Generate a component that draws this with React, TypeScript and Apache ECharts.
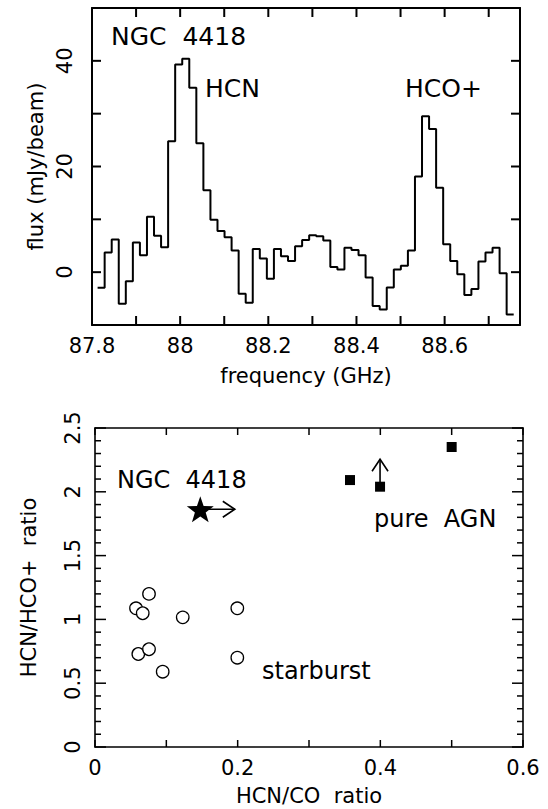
import React, { useEffect, useRef } from "react";
import * as echarts from "echarts";

// ---- Spectrum (top panel) ----
const channelStartGHz = 87.8127;
const channelWidthGHz = 0.016;
const fluxValues = [
  -2.95, 3.7, 6.2, -6.0, -1.7, 5.6, 3.2, 10.5, 6.9, 4.7,
  24.8, 39.3, 40.4, 34.9, 24.4, 15.5, 9.9, 7.8, 6.6, 4.1,
  -4.1, -5.8, 4.4, 2.6, -1.25, 4.4, 3.0, 2.1, 4.9, 6.1,
  7.0, 6.8, 6.0, 1.0, 0.5, 4.6, 4.2, 3.2, -1.0, -6.4,
  -7.05, -2.9, 0.5, 1.2, 4.1, 18.1, 29.5, 27.1, 16.0, 5.3,
  2.1, -0.4, -4.3, -3.2, 2.0, 3.7, 4.6, -0.2, -8.0,
];
const freqTicks = [87.8, 87.9, 88.0, 88.1, 88.2, 88.3, 88.4, 88.5, 88.6, 88.7];
const fluxTicks = [-10, 0, 10, 20, 30, 40, 50];

// ---- Ratio diagram (bottom panel) ----
const starburstHcnCo = [0.0575, 0.0669, 0.0757, 0.123, 0.1995, 0.0607, 0.0757, 0.0949, 0.1995];
const starburstHcnHco = [1.087, 1.048, 1.2, 1.016, 1.087, 0.729, 0.766, 0.59, 0.7];
const agnHcnCo = [0.3575, 0.3996, 0.5];
const agnHcnHco = [2.092, 2.04, 2.351];
const ngc4418HcnCo = [0.1476];
const ngc4418HcnHco = [1.863];
// limits: [x0, y0, x1, y1]
const limitArrows = [
  [0.1476, 1.863, 0.196, 1.863],
  [0.3996, 2.04, 0.3996, 2.255],
];
const ratioXTicks = [0, 0.1, 0.2, 0.3, 0.4, 0.5, 0.6];
const ratioYMajorTicks = [0, 0.5, 1, 1.5, 2, 2.5];
const ratioYMinorTicks = [
  0.1, 0.2, 0.3, 0.4, 0.6, 0.7, 0.8, 0.9, 1.1, 1.2, 1.3, 1.4,
  1.6, 1.7, 1.8, 1.9, 2.1, 2.2, 2.3, 2.4,
];

const FONT = "DejaVu Sans";
const STAR =
  "path://M0,-10 L2.35,-3.24 L9.51,-3.09 L3.8,1.24 L5.88,8.09 L0,4 L-5.88,8.09 L-3.8,1.24 L-9.51,-3.09 L-2.35,-3.24 Z";

// kind: 0 = x tick, 1 = y major tick, 2 = y minor tick
function tickSeries(xi: number, yi: number, items: number[][], xMin: number, yMin: number, lens: number[], width: number) {
  return {
    type: "custom",
    xAxisIndex: xi,
    yAxisIndex: yi,
    silent: true,
    clip: false,
    z: 10,
    data: items,
    renderItem: (params: any, api: any) => {
      const cs = params.coordSys;
      const v = api.value(0);
      const kind = api.value(1);
      const L = lens[kind];
      const style = { stroke: "#000", lineWidth: width, fill: "none" };
      if (kind === 0) {
        const x = api.coord([v, yMin])[0];
        return {
          type: "group",
          children: [
            { type: "line", shape: { x1: x, y1: cs.y + cs.height, x2: x, y2: cs.y + cs.height - L }, style },
            { type: "line", shape: { x1: x, y1: cs.y, x2: x, y2: cs.y + L }, style },
          ],
        };
      }
      const y = api.coord([xMin, v])[1];
      return {
        type: "group",
        children: [
          { type: "line", shape: { x1: cs.x, y1: y, x2: cs.x + L, y2: y }, style },
          { type: "line", shape: { x1: cs.x + cs.width, y1: y, x2: cs.x + cs.width - L, y2: y }, style },
        ],
      };
    },
  };
}

export default function App() {
  const ref = useRef<HTMLDivElement>(null);
  useEffect(() => {
    if (!ref.current) return;
    const chart = echarts.init(ref.current, undefined, { renderer: "svg" });

    const stepData: number[][] = fluxValues.map((v, i) => [channelStartGHz + i * channelWidthGHz, v]);
    stepData.push([channelStartGHz + fluxValues.length * channelWidthGHz, fluxValues[fluxValues.length - 1]]);

    const topLine = { lineStyle: { color: "#000", width: 2 } };
    const botLine = { lineStyle: { color: "#000", width: 1.6 } };
    const noTick = { show: false };

    const fmtTopX = (v: number) => {
      const t = Math.round(v * 10);
      if (Math.abs(v * 10 - t) > 1e-6 || t % 2 !== 0) return "";
      return String(t / 10);
    };
    const fmtTopY = (v: number) => (Math.round(v) % 20 === 0 ? String(Math.round(v)) : "");
    const fmtBotX = (v: number) => {
      const t = Math.round(v * 10);
      if (Math.abs(v * 10 - t) > 1e-6 || t % 2 !== 0) return "";
      return String(t / 10);
    };

    const topTickItems = [
      ...freqTicks.map((v) => [v, 0]),
      ...fluxTicks.map((v) => [v, 1]),
    ];
    const botTickItems = [
      ...ratioXTicks.map((v) => [v, 0]),
      ...ratioYMajorTicks.map((v) => [v, 1]),
      ...ratioYMinorTicks.map((v) => [v, 2]),
    ];

    const option: any = {
      animation: false,
      backgroundColor: "#fff",
      textStyle: { fontFamily: FONT, color: "#000" },
      grid: [
        { left: 92, top: 8, width: 428, height: 317 },
        { left: 95, top: 428, width: 428, height: 319 },
      ],
      xAxis: [
        {
          gridIndex: 0, type: "value", position: "bottom", min: 87.8, max: 88.771, interval: 0.1,
          axisLine: { show: true, onZero: false, ...topLine },
          axisTick: noTick,
          axisLabel: { show: true, formatter: fmtTopX, fontSize: 21, fontFamily: FONT, color: "#000", margin: 10 },
          splitLine: { show: false },
          name: "frequency (GHz)", nameLocation: "middle", nameGap: 40,
          nameTextStyle: { fontSize: 21, fontFamily: FONT, color: "#000" },
        },
        {
          gridIndex: 0, type: "value", position: "top", min: 87.8, max: 88.771, interval: 0.1,
          axisLine: { show: true, onZero: false, ...topLine },
          axisTick: noTick, axisLabel: { show: false }, splitLine: { show: false },
        },
        {
          gridIndex: 1, type: "value", position: "bottom", min: 0, max: 0.6, interval: 0.1,
          axisLine: { show: true, onZero: false, ...botLine },
          axisTick: noTick,
          axisLabel: { show: true, formatter: fmtBotX, fontSize: 21, fontFamily: FONT, color: "#000", margin: 10 },
          splitLine: { show: false },
          name: "HCN/CO  ratio", nameLocation: "middle", nameGap: 38,
          nameTextStyle: { fontSize: 21, fontFamily: FONT, color: "#000" },
        },
        {
          gridIndex: 1, type: "value", position: "top", min: 0, max: 0.6, interval: 0.1,
          axisLine: { show: true, onZero: false, ...botLine },
          axisTick: noTick, axisLabel: { show: false }, splitLine: { show: false },
        },
      ],
      yAxis: [
        {
          gridIndex: 0, type: "value", position: "left", min: -10, max: 50, interval: 10,
          axisLine: { show: true, onZero: false, ...topLine },
          axisTick: noTick,
          axisLabel: { show: true, formatter: fmtTopY, rotate: 90, fontSize: 21, fontFamily: FONT, color: "#000", margin: 17 },
          splitLine: { show: false },
          name: "flux (mJy/beam)", nameLocation: "middle", nameGap: 44,
          nameTextStyle: { fontSize: 21, fontFamily: FONT, color: "#000" },
        },
        {
          gridIndex: 0, type: "value", position: "right", min: -10, max: 50, interval: 10,
          axisLine: { show: true, onZero: false, ...topLine },
          axisTick: noTick, axisLabel: { show: false }, splitLine: { show: false },
        },
        {
          gridIndex: 1, type: "value", position: "left", min: 0, max: 2.5, interval: 0.5,
          axisLine: { show: true, onZero: false, ...botLine },
          axisTick: noTick,
          axisLabel: { show: true, rotate: 90, fontSize: 21, fontFamily: FONT, color: "#000", margin: 12 },
          splitLine: { show: false },
          name: "HCN/HCO+  ratio", nameLocation: "middle", nameGap: 56,
          nameTextStyle: { fontSize: 21, fontFamily: FONT, color: "#000" },
        },
        {
          gridIndex: 1, type: "value", position: "right", min: 0, max: 2.5, interval: 0.5,
          axisLine: { show: true, onZero: false, ...botLine },
          axisTick: noTick, axisLabel: { show: false }, splitLine: { show: false },
        },
      ],
      series: [
        {
          type: "line", name: "spectrum", xAxisIndex: 0, yAxisIndex: 0, step: "end",
          data: stepData, showSymbol: false, symbol: "none",
          lineStyle: { color: "#000", width: 2 },
        },
        tickSeries(0, 0, topTickItems, 87.8, -10, [9, 9, 9], 2),
        tickSeries(2, 2, botTickItems, 0, 0, [7, 11, 6], 1.5),
        {
          type: "scatter", name: "starburst", xAxisIndex: 2, yAxisIndex: 2,
          data: starburstHcnCo.map((x, i) => [x, starburstHcnHco[i]]),
          symbol: "circle", symbolSize: 12.5,
          itemStyle: { color: "#fff", borderColor: "#000", borderWidth: 1.3, opacity: 1 },
        },
        {
          type: "scatter", name: "pure AGN", xAxisIndex: 2, yAxisIndex: 2,
          data: agnHcnCo.map((x, i) => [x, agnHcnHco[i]]),
          symbol: "rect", symbolSize: 10, itemStyle: { color: "#000", opacity: 1 },
        },
        {
          type: "custom", name: "limits", xAxisIndex: 2, yAxisIndex: 2,
          data: limitArrows,
          renderItem: (params: any, api: any) => {
            const p0 = api.coord([api.value(0), api.value(1)]);
            const p1 = api.coord([api.value(2), api.value(3)]);
            const dx = p1[0] - p0[0];
            const dy = p1[1] - p0[1];
            const len = Math.sqrt(dx * dx + dy * dy) || 1;
            const ux = dx / len, uy = dy / len;
            const px = -uy, py = ux;
            const hl = 12, hw = 8;
            const style = { stroke: "#000", lineWidth: 1.6, fill: "none" };
            return {
              type: "group",
              children: [
                { type: "line", shape: { x1: p0[0], y1: p0[1], x2: p1[0], y2: p1[1] }, style },
                {
                  type: "polyline",
                  shape: {
                    points: [
                      [p1[0] - ux * hl + px * hw, p1[1] - uy * hl + py * hw],
                      [p1[0], p1[1]],
                      [p1[0] - ux * hl - px * hw, p1[1] - uy * hl - py * hw],
                    ],
                  },
                  style,
                },
              ],
            };
          },
        },
        {
          type: "scatter", name: "NGC 4418", xAxisIndex: 2, yAxisIndex: 2,
          data: ngc4418HcnCo.map((x, i) => [x, ngc4418HcnHco[i]]),
          symbol: STAR, symbolSize: [27, 26], itemStyle: { color: "#000", opacity: 1 }, z: 5,
        },
      ],
      graphic: [
        { type: "text", x: 111, y: 36, style: { text: "NGC  4418", font: `25px "${FONT}"`, fill: "#000", verticalAlign: "middle" } },
        { type: "text", x: 205, y: 88, style: { text: "HCN", font: `25px "${FONT}"`, fill: "#000", verticalAlign: "middle" } },
        { type: "text", x: 405, y: 88, style: { text: "HCO+", font: `25px "${FONT}"`, fill: "#000", verticalAlign: "middle" } },
        { type: "text", x: 117, y: 480, style: { text: "NGC  4418", font: `24px "${FONT}"`, fill: "#000", verticalAlign: "middle" } },
        { type: "text", x: 374, y: 519, style: { text: "pure  AGN", font: `24px "${FONT}"`, fill: "#000", verticalAlign: "middle" } },
        { type: "text", x: 262, y: 671, style: { text: "starburst", font: `24px "${FONT}"`, fill: "#000", verticalAlign: "middle" } },
      ],
    };
    chart.setOption(option);
    return () => chart.dispose();
  }, []);
  return (
    <div
      ref={ref}
      style={{ position: "fixed", left: 0, top: 0, width: 548, height: 809, background: "#fff" }}
    />
  );
}
